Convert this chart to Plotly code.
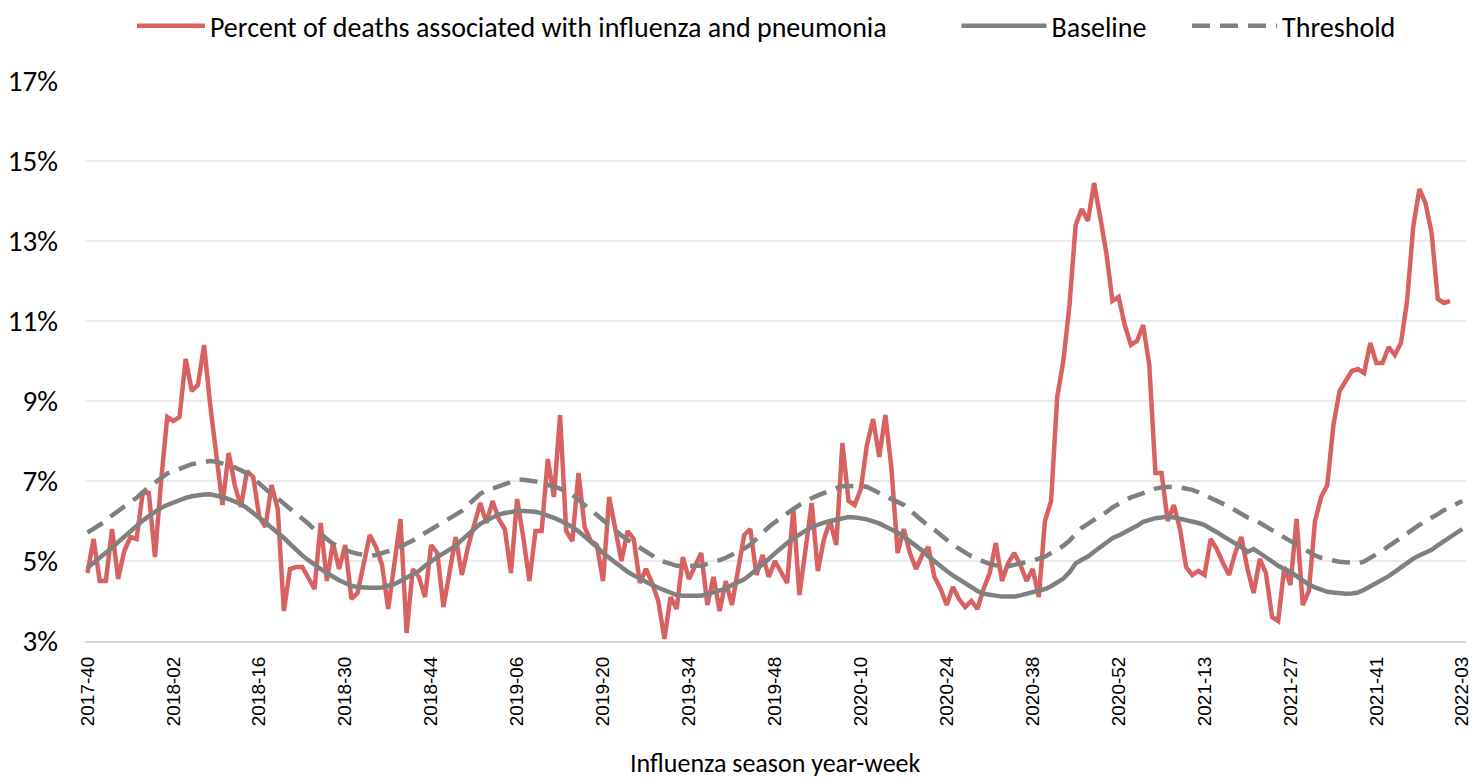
import datetime
import plotly.graph_objects as go

# ISO year-week categories, 2017-40 .. 2022-03
first_monday = datetime.date(2017, 10, 2)
n_weeks = 225
weeks = []
for k in range(n_weeks):
    y, w, _ = (first_monday + datetime.timedelta(weeks=k)).isocalendar()
    weeks.append(f"{y}-{w:02d}")
tick_weeks = weeks[::14]

pi_pct = [
    4.7, 5.55, 4.5, 4.5, 5.8, 4.55, 5.25, 5.6, 5.55, 6.7,
    6.7, 5.1, 7.0, 8.6, 8.5, 8.6, 10.05, 9.25, 9.4, 10.4,
    8.9, 7.6, 6.4, 7.7, 6.9, 6.35, 7.25, 7.1, 6.1, 5.85,
    6.9, 6.3, 3.75, 4.8, 4.85, 4.85, 4.6, 4.3, 5.95, 4.5,
    5.45, 4.8, 5.4, 4.05, 4.2, 4.9, 5.65, 5.35, 4.9, 3.8,
    4.9, 6.05, 3.2, 4.8, 4.6, 4.1, 5.4, 5.2, 3.85, 4.8,
    5.6, 4.65, 5.35, 5.9, 6.45, 5.95, 6.5, 6.05, 5.8, 4.7,
    6.55, 5.6, 4.5, 5.75, 5.75, 7.55, 6.6, 8.65, 5.75, 5.5,
    7.2, 5.85, 5.5, 5.4, 4.5, 6.6, 5.8, 5.0, 5.75, 5.55,
    4.45, 4.8, 4.45, 4.0, 3.05, 4.1, 3.8, 5.1, 4.55, 4.9,
    5.2, 3.9, 4.6, 3.75, 4.5, 3.9, 4.8, 5.65, 5.8, 4.65,
    5.15, 4.6, 5.0, 4.7, 4.45, 6.3, 4.15, 5.3, 6.45, 4.75,
    5.55, 6.0, 5.4, 7.95, 6.5, 6.4, 6.8, 7.9, 8.55, 7.6,
    8.65, 7.3, 5.2, 5.8, 5.2, 4.8, 5.15, 5.35, 4.6, 4.3,
    3.9, 4.35, 4.05, 3.85, 4.0, 3.8, 4.3, 4.7, 5.45, 4.5,
    4.95, 5.2, 4.9, 4.5, 4.8, 4.1, 6.0, 6.5, 9.1, 10.0,
    11.4, 13.4, 13.8, 13.5, 14.45, 13.6, 12.7, 11.5, 11.6, 10.9,
    10.4, 10.5, 10.9, 9.9, 7.2, 7.2, 6.0, 6.4, 5.8, 4.85,
    4.65, 4.75, 4.65, 5.55, 5.3, 4.95, 4.65, 5.2, 5.6, 4.8,
    4.2, 5.05, 4.7, 3.6, 3.5, 4.85, 4.4, 6.05, 3.9, 4.25,
    6.0, 6.6, 6.9, 8.4, 9.25, 9.5, 9.75, 9.8, 9.7, 10.45,
    9.95, 9.95, 10.35, 10.15, 10.45, 11.5, 13.35, 14.3, 13.95, 13.2,
    11.55, 11.45, 11.5,
]

baseline = [
    4.83, 4.95, 5.08, 5.2, 5.33, 5.47, 5.61, 5.76, 5.9, 6.01,
    6.12, 6.23, 6.33, 6.4, 6.47, 6.54, 6.58, 6.62, 6.65, 6.66,
    6.67, 6.64, 6.6, 6.55, 6.49, 6.42, 6.32, 6.21, 6.1, 5.96,
    5.83, 5.71, 5.58, 5.43, 5.28, 5.14, 5.02, 4.9, 4.8, 4.7,
    4.6, 4.52, 4.45, 4.38, 4.35, 4.33, 4.33, 4.33, 4.34, 4.38,
    4.42, 4.5, 4.59, 4.67, 4.75, 4.88, 5.0, 5.1, 5.19, 5.28,
    5.38, 5.53, 5.67, 5.82, 5.93, 6.01, 6.1, 6.16, 6.2, 6.23,
    6.25, 6.25, 6.25, 6.23, 6.19, 6.14, 6.08, 6.01, 5.94, 5.85,
    5.74, 5.62, 5.49, 5.35, 5.2, 5.08, 4.95, 4.83, 4.73, 4.64,
    4.55, 4.47, 4.4, 4.33, 4.27, 4.21, 4.15, 4.13, 4.13, 4.13,
    4.13, 4.17, 4.22, 4.27, 4.31, 4.4, 4.47, 4.54, 4.66, 4.78,
    4.93, 5.05, 5.19, 5.33, 5.45, 5.56, 5.67, 5.76, 5.85, 5.92,
    5.96, 6.0, 6.04, 6.07, 6.1, 6.09, 6.07, 6.04, 5.99, 5.94,
    5.86, 5.79, 5.71, 5.61, 5.5, 5.39, 5.26, 5.12, 4.99, 4.86,
    4.75, 4.64, 4.54, 4.44, 4.35, 4.25, 4.18, 4.15, 4.12, 4.11,
    4.11, 4.11, 4.14, 4.18, 4.23, 4.27, 4.3, 4.37, 4.46, 4.56,
    4.72, 4.94, 5.03, 5.11, 5.23, 5.35, 5.46, 5.57, 5.64, 5.71,
    5.78, 5.88, 5.98, 6.03, 6.07, 6.09, 6.11, 6.09, 6.06, 6.03,
    5.99, 5.95, 5.9, 5.82, 5.72, 5.62, 5.54, 5.45, 5.35, 5.23,
    5.3, 5.2, 5.09, 4.98, 4.88, 4.8, 4.73, 4.62, 4.51, 4.41,
    4.34, 4.27, 4.23, 4.21, 4.19, 4.18, 4.19, 4.21, 4.28, 4.36,
    4.45, 4.53, 4.62, 4.73, 4.84, 4.96, 5.06, 5.14, 5.21, 5.28,
    5.39, 5.5, 5.6, 5.7, 5.8,
]

threshold = [
    5.71, 5.8, 5.9, 6.0, 6.14, 6.25, 6.33, 6.46, 6.58, 6.72,
    6.85, 6.97, 7.08, 7.19, 7.25, 7.31, 7.37, 7.42, 7.45, 7.48,
    7.5, 7.48, 7.44, 7.4, 7.34, 7.27, 7.19, 7.07, 6.93, 6.79,
    6.67, 6.56, 6.44, 6.31, 6.19, 6.06, 5.93, 5.79, 5.67, 5.54,
    5.43, 5.35, 5.27, 5.22, 5.18, 5.15, 5.13, 5.15, 5.19, 5.23,
    5.29, 5.36, 5.43, 5.51, 5.61, 5.7, 5.8, 5.89, 5.99, 6.08,
    6.16, 6.25, 6.4, 6.54, 6.68, 6.76, 6.82, 6.88, 6.93, 6.98,
    7.03, 7.03, 7.02, 6.99, 6.95, 6.91, 6.87, 6.81, 6.73, 6.65,
    6.53, 6.4, 6.27, 6.15, 6.02, 5.88, 5.76, 5.64, 5.53, 5.43,
    5.33, 5.23, 5.13, 5.04, 4.98, 4.93, 4.88, 4.88, 4.88, 4.88,
    4.88, 4.93, 4.97, 5.02, 5.08, 5.15, 5.21, 5.31, 5.41, 5.56,
    5.71, 5.85, 5.97, 6.09, 6.2, 6.3, 6.4, 6.5, 6.57, 6.64,
    6.71, 6.76, 6.82, 6.87, 6.88, 6.88, 6.88, 6.85, 6.78, 6.7,
    6.63, 6.56, 6.49, 6.4, 6.27, 6.14, 6.0, 5.88, 5.78, 5.65,
    5.52, 5.4, 5.31, 5.21, 5.12, 5.05, 4.98, 4.93, 4.89, 4.86,
    4.87, 4.9, 4.93, 4.96, 5.01, 5.06, 5.11, 5.2, 5.29, 5.38,
    5.51, 5.67, 5.83, 5.93, 6.02, 6.11, 6.22, 6.34, 6.43, 6.51,
    6.59, 6.64, 6.7, 6.77, 6.81, 6.84, 6.86, 6.86, 6.84, 6.81,
    6.78, 6.72, 6.65, 6.59, 6.51, 6.44, 6.36, 6.27, 6.18, 6.09,
    6.04, 5.95, 5.86, 5.76, 5.66, 5.57, 5.48, 5.38, 5.29, 5.21,
    5.14, 5.08, 5.04, 5.01, 4.98, 4.97, 4.95, 4.94, 4.99, 5.07,
    5.15, 5.26, 5.37, 5.48, 5.59, 5.7, 5.81, 5.9, 5.99, 6.07,
    6.17, 6.27, 6.35, 6.43, 6.5,
]

RED = "#D86262"
GREY = "#808080"
TEXT_FONT = "Carlito, Lato, sans-serif"
LEGEND_FONT = dict(family=TEXT_FONT, size=28, color="#000000")


def legend_box(x, item_width):
    """One legend entry placed on its own, like the spaced-out Excel legend."""
    return dict(
        orientation="h", x=x, xanchor="left", y=1.098, yanchor="middle",
        font=LEGEND_FONT, itemwidth=item_width, bgcolor="rgba(0,0,0,0)",
    )


fig = go.Figure()
fig.add_trace(go.Scatter(
    x=weeks[:len(pi_pct)], y=pi_pct, mode="lines",
    name="Percent of deaths associated with influenza and pneumonia",
    line=dict(color=RED, width=4.5), legend="legend",
))
fig.add_trace(go.Scatter(
    x=weeks, y=baseline, mode="lines", name="Baseline",
    line=dict(color=GREY, width=4.5), legend="legend2",
))
fig.add_trace(go.Scatter(
    x=weeks, y=threshold, mode="lines", name="Threshold",
    line=dict(color=GREY, width=4.5, dash="18px,10px"), legend="legend3",
))

# page has an 8px body margin, so the figure is 8px smaller than the window
fig.update_layout(
    width=1470, height=774,
    margin=dict(l=77, r=12, t=73, b=141, autoexpand=False),
    plot_bgcolor="white", paper_bgcolor="white",
    font=dict(family=TEXT_FONT, color="#000000", size=28),
    showlegend=True,
    legend=legend_box(0.034, 68),
    legend2=legend_box(0.631, 85),
    legend3=legend_box(0.798, 85),
)
fig.update_xaxes(
    type="category", range=[-0.4, 224.6], automargin=False,
    tickmode="array", tickvals=tick_weeks, ticktext=tick_weeks,
    tickangle=-90, tickfont=dict(family="Liberation Sans, Arial", size=19),
    showgrid=False, showline=True, linecolor="#d6d6d6", linewidth=2,
    ticks="", ticklabelstandoff=6,
)
fig.update_yaxes(
    range=[3, 17], tick0=3, dtick=2, ticksuffix="%", automargin=False,
    tickfont=dict(family=TEXT_FONT, size=29),
    showgrid=True, gridcolor="#ebebeb", gridwidth=2,
    zeroline=False, showline=False, ticks="", ticklabelstandoff=26,
)
fig.add_annotation(
    text="Influenza season year-week", xref="paper", yref="paper",
    x=0.5, y=-0.218, xanchor="center", yanchor="middle", showarrow=False,
    font=dict(family=TEXT_FONT, size=26, color="#000000"),
)

fig.write_html("out.html")
